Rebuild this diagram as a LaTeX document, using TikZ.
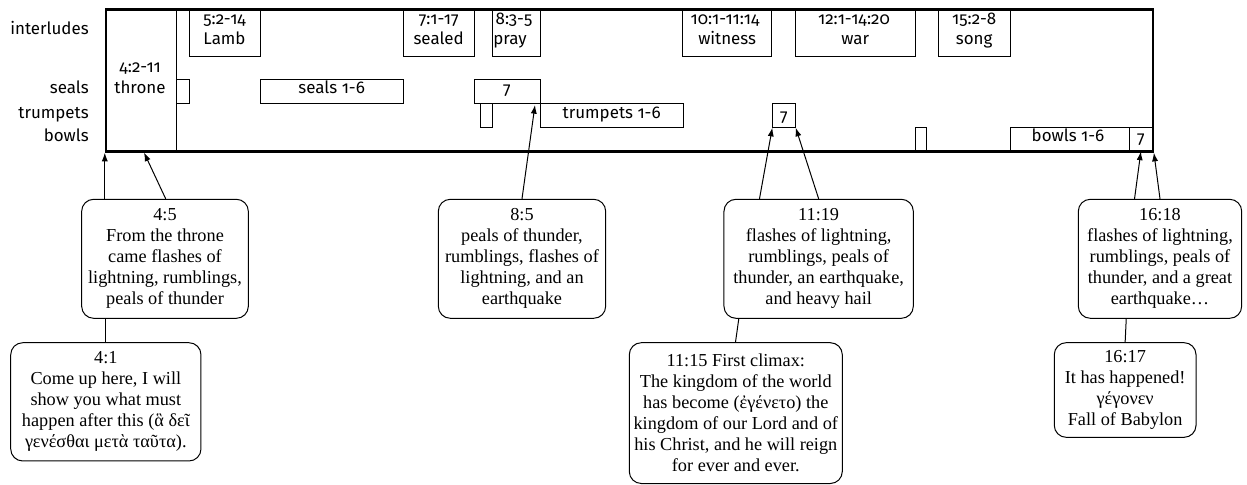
\documentclass[tikz,border=0pt]{standalone}
\usepackage{fontspec}
\setmainfont{Liberation Serif}
\newfontfamily\sansf{Fira Sans}[Numbers=OldStyle]
\usetikzlibrary{arrows.meta,calc,fit}
\begin{document}
\begin{tikzpicture}[x=0.75pt,y=-0.75pt,
  rowlab/.style={font=\sansf\fontsize{12.7}{14}\selectfont, anchor=base east, inner sep=0},
  lab/.style={font=\sansf\fontsize{12.7}{14}\selectfont, anchor=base, inner sep=0},
  bar/.style={draw, line width=0.75pt, inner sep=0, outer sep=0},
  cbox/.style={draw, line width=0.75pt, rounded corners=9pt, align=center, inner sep=0,
    font=\fontsize{13.7}{15.75}\selectfont},
  arr/.style={-{Latex[length=6.5pt,width=4.6pt]}, line width=0.75pt},
  con/.style={line width=0.75pt}]

\useasboundingbox (0,0) rectangle (1247,485);

% row labels
\node[rowlab] (l-int) at (89,35) {interludes};
\node[rowlab] (l-seal) at (89,93.3) {seals};
\node[rowlab] (l-trum) at (89,118) {trumpets};
\node[rowlab] (l-bowl) at (89,141.7) {bowls};

% frame
\coordinate (fnw) at (106,9.5);
\coordinate (fse) at (1152.7,151.5);
\coordinate (thse) at (176.7,151.5);
\node[draw, line width=1.8pt, inner sep=0, fit={(fnw)(fse)}] (frame) {};

% throne column
\node[inner sep=0, outer sep=0, fit={(fnw)(thse)}] (throne) {};
\draw[con] (throne.north east) -- (throne.south east);
\node[lab] (thr-a) at (140,72.7) {4:2-11};
\node[lab] (thr-b) at (140,93.3) {throne};

% interludes
\node[bar, fit={(189,9.5)(260,56.7)}] (lamb) {};
\node[lab] (lamb-a) at (224.5,25) {5:2-14};
\node[lab] (lamb-b) at (224.5,45) {Lamb};
\node[bar, fit={(403.3,9.5)(474,56.7)}] (sealed) {};
\node[lab] (sealed-a) at (438.7,25) {7:1-17};
\node[lab] (sealed-b) at (438.7,45) {sealed};
\node[bar, fit={(492.3,9.5)(540,56.7)}] (pray) {};
\node[lab] (pray-a) at (514,25) {8:3-5};
\node[lab] (pray-b) at (510,45) {pray};
\node[bar, fit={(682.7,9.5)(771.7,56.7)}] (witness) {};
\node[lab] (witness-a) at (725,25) {10:1-11:14};
\node[lab] (witness-b) at (727.2,45) {witness};
\node[bar, fit={(795.7,9.5)(915,56.7)}] (war) {};
\node[lab] (war-a) at (854,25) {12:1-14:20};
\node[lab] (war-b) at (855.3,45) {war};
\node[bar, fit={(938.3,9.5)(1010,56.7)}] (song) {};
\node[lab] (song-a) at (974.2,25) {15:2-8};
\node[lab] (song-b) at (974.2,45) {song};

% seals
\node[bar, fit={(176.7,80)(189,104)}] (s0) {};
\node[bar, fit={(260,80)(403.3,104)}] (s16) {};
\node[lab] (s16-t) at (331.7,93.3) {seals 1-6};
\node[bar, fit={(474,80)(540,104)}] (s7) {};
\node[lab] (s7-t) at (507,95) {7};

% trumpets
\node[bar, fit={(480.7,104)(492.3,127.7)}] (t0) {};
\node[bar, fit={(540,104)(683.3,127.7)}] (t16) {};
\node[lab] (t16-t) at (611.7,118.3) {trumpets 1-6};
\node[bar, fit={(772.3,104)(795.7,127.7)}] (t7) {};
\node[lab] (t7-t) at (784,121.7) {7};

% bowls
\node[bar, fit={(915,127.7)(926.7,151.5)}] (b0) {};
\node[bar, fit={(1010,127.7)(1129,151.5)}] (b16) {};
\node[lab] (b16-t) at (1068,141.7) {bowls 1-6};
\node[bar, fit={(1129,127.7)(1152.7,151.5)}] (b7) {};
\node[lab] (b7-t) at (1141,143.3) {7};

% callouts
\node[cbox, minimum width=125pt, minimum height=89.25pt] (c45) at (165,258.8)
  {4:5\\From the throne\\came flashes of\\lightning, rumblings,\\peals of thunder};
\node[cbox, minimum width=142.7pt, minimum height=88.7pt] (c41) at (105.85,401.85)
  {4:1\\Come up here, I will\\show you what must\\happen after this (ἃ δεῖ\\γενέσθαι μετὰ ταῦτα).};
\node[cbox, minimum width=125.5pt, minimum height=89.25pt] (c85) at (522,258.8)
  {8:5\\peals of thunder,\\rumblings, flashes of\\lightning, and an\\earthquake};
\node[cbox, minimum width=142pt, minimum height=89.25pt] (c1119) at (818.65,258.8)
  {11:19\\flashes of lightning,\\rumblings, peals of\\thunder, an earthquake,\\and heavy hail};
\node[cbox, minimum width=159.75pt, minimum height=105.6pt] (c1115) at (735.8,413.1)
  {11:15 First climax:\\The kingdom of the world\\has become (ἐγένετο) the\\kingdom of our Lord and of\\his Christ, and he will reign\\for ever and ever.};
\node[cbox, minimum width=122.5pt, minimum height=89.25pt] (c1618) at (1160,258.8)
  {16:18\\flashes of lightning,\\rumblings, peals of\\thunder, and a great\\earthquake…};
\node[cbox, minimum width=106.3pt, minimum height=71pt] (c1617) at (1125.15,390)
  {16:17\\It has happened!\\γέγονεν\\Fall of Babylon};

% target points
\coordinate (p-thr) at (144,152.5);
\coordinate (p-85) at (535,105);

% connectors
\draw[arr] (c45.north -| frame.south west) -- (frame.south west);
\draw[arr] ($(c45.north)+(0.7,0)$) -- (p-thr);
\draw[con] (c41.north) -- (c41.north |- c45.south);
\draw[arr] (c85.north) -- (p-85);
\draw[arr] ($(c1119.north west)+(36,0)$) -- (t7.south west);
\draw[arr] (c1119.north) -- (t7.south east);
\draw[con] ($(c1115.north west)+(106.7,0)$) -- ($(c1119.south west)+(15.3,0)$);
\draw[arr] ($(c1618.north west)+(56.7,0)$) -- (b7.south);
\draw[arr] (c1618.north) -- (frame.south east);
\draw[con] (c1617.north) -- ($(c1618.south west)+(48.4,0)$);
\end{tikzpicture}
\end{document}
